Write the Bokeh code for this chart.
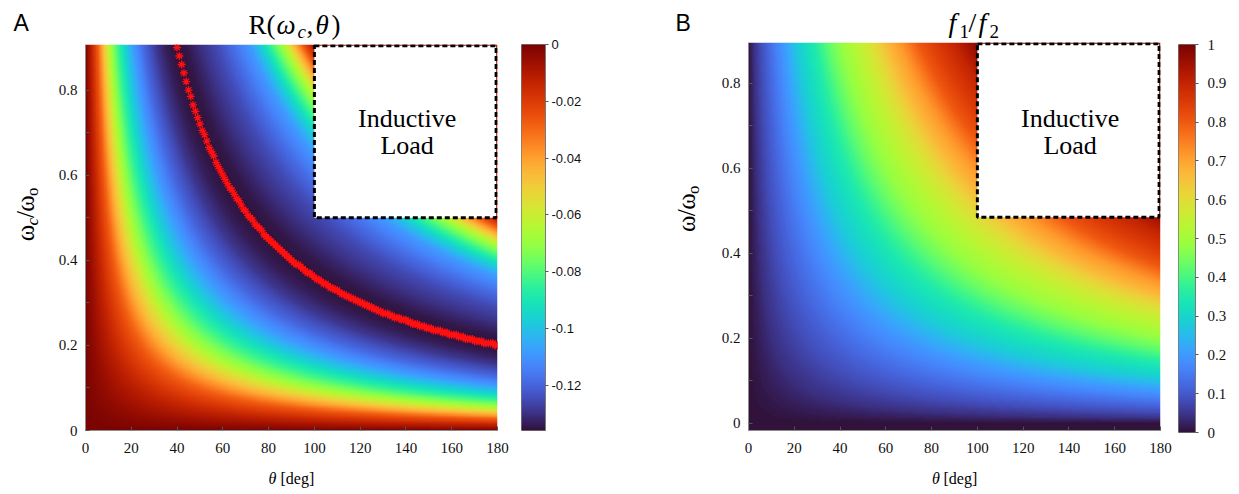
import numpy as np
from bokeh.plotting import figure
from bokeh.layouts import row, column
from bokeh.models import (LinearColorMapper, FixedTicker, CustomJSTickFormatter,
                          Label, BoxAnnotation, Range1d)
from bokeh.palettes import Turbo256
from bokeh.embed import file_html
from bokeh.resources import INLINE

# ---------------------------------------------------------------------------
# Data: both maps depend on the electrical length  omega/omega_o * theta  [deg]
# ---------------------------------------------------------------------------
r_electrical_length = [0, 2.5, 5, 7.5, 10, 12.5, 15.5, 19, 23, 28, 32, 36,
                       40, 45, 52, 58, 65, 70, 74, 78, 82, 86, 90]
r_values = [0.0, -0.0136, -0.0286, -0.0490, -0.0680, -0.0816, -0.0952,
            -0.1088, -0.1197, -0.1292, -0.1340, -0.1360, -0.1346, -0.1306,
            -0.1251, -0.1183, -0.1088, -0.0952, -0.0816, -0.0680, -0.0476,
            -0.0272, -0.0095]

f_electrical_length = [0, 2, 4.6, 8.5, 13.8, 19, 25.6, 30.8, 36, 43.9, 49.1,
                       54.4, 59.6, 66.2, 72.7, 80.6, 87.2, 90]
f_ratio = [0.0, 0.04, 0.08, 0.13, 0.20, 0.28, 0.35, 0.42, 0.48, 0.55, 0.60,
           0.67, 0.72, 0.80, 0.85, 0.90, 0.96, 0.98]

theta_ticks = [0, 20, 40, 60, 80, 100, 120, 140, 160, 180]
omega_ticks = [0, 0.2, 0.4, 0.6, 0.8]
omega_minor_ticks = [0.1, 0.3, 0.5, 0.7]
r_bar_ticks = [-0.12, -0.1, -0.08, -0.06, -0.04, -0.02, 0]
f_bar_ticks = [0, 0.1, 0.2, 0.3, 0.4, 0.5, 0.6, 0.7, 0.8, 0.9, 1.0]

R_LOW, R_HIGH = -0.136, 0.0
F_LOW, F_HIGH = 0.0, 1.0
inductive_theta = 100          # inductive-load region: theta above this ...
inductive_omega_a = 0.5        # ... and omega above this (panel A)
inductive_omega_b = 0.485      # same region in panel B axes

SERIF = "Liberation Serif"
SANS = "Liberation Sans"
AXIS_GRAY = "#8c8c8c"
XR = (0, 180)
A_YR = (0.0, 0.907)
B_YR = (-0.0165, 0.896)
RAISE = 0.3   # lift of the alphabetic baseline, in em

r_mapper = LinearColorMapper(palette=Turbo256, low=R_LOW, high=R_HIGH)
f_mapper = LinearColorMapper(palette=Turbo256, low=F_LOW, high=F_HIGH)

tick_fmt = CustomJSTickFormatter(code="""
    const v = Math.round(tick * 100) / 100;
    return v == 0 ? '0' : String(v);
""")


def text_panel(width, height, pieces):
    """A blank canvas in pixel units that only carries text.
    pieces: (text, x, y_baseline, size, style, font, angle, align)"""
    p = figure(width=width, height=height, x_range=Range1d(0, width),
               y_range=Range1d(height, 0), min_border=0, title=None,
               x_axis_location=None, y_axis_location=None,
               output_backend="svg", toolbar_location=None)
    p.outline_line_color = None
    p.grid.visible = False
    for text, x, y, size, style, font, angle, align in pieces:
        if angle:
            x = x - RAISE * size
        else:
            y = y - RAISE * size
        p.add_layout(Label(x=x, y=y, text=text, text_font=font,
                           text_font_size=f"{size}px", text_font_style=style,
                           text_color="black", text_align=align,
                           text_baseline="alphabetic", angle=angle))
    return p


def map_figure(frame_h, yr, border_left, border_right):
    p = figure(frame_width=412, frame_height=frame_h, x_range=XR, y_range=yr,
               min_border_left=border_left, min_border_right=border_right,
               min_border_top=0, min_border_bottom=32, title=None,
               output_backend="svg", toolbar_location=None)
    p.outline_line_color = None
    p.grid.visible = False
    for ax in (p.xaxis[0], p.yaxis[0]):
        ax.axis_line_color = AXIS_GRAY
        ax.major_tick_line_color = "#555555"
        ax.minor_tick_line_color = "#555555"
        ax.major_tick_in = 4
        ax.major_tick_out = 0
        ax.minor_tick_in = 4
        ax.minor_tick_out = 0
        ax.major_label_text_font = SERIF
        ax.major_label_text_font_size = "15px"
        ax.major_label_text_color = "#111111"
        ax.formatter = tick_fmt
    p.xaxis.ticker = FixedTicker(ticks=theta_ticks)
    p.xaxis.major_label_standoff = 12
    p.yaxis.ticker = FixedTicker(ticks=omega_ticks, minor_ticks=omega_minor_ticks)
    p.yaxis.major_label_standoff = 8
    return p


def colorbar_figure(mapper, low, high, ticks, top, frame_w, frame_h,
                    border_left, border_right, font, size, standoff):
    p = figure(frame_width=frame_w, frame_height=frame_h, x_range=(0, 1),
               y_range=(low, high), min_border_left=border_left,
               min_border_right=border_right, min_border_top=top,
               min_border_bottom=494 - top - frame_h, title=None,
               x_axis_location=None, y_axis_location="right",
               output_backend="svg", toolbar_location=None)
    p.image(image=[np.linspace(low, high, 256).reshape(-1, 1)], x=0, y=low,
            dw=1, dh=high - low, color_mapper=mapper)
    p.grid.visible = False
    p.outline_line_color = "#7a7a7a"
    ax = p.yaxis[0]
    ax.ticker = FixedTicker(ticks=ticks)
    ax.formatter = tick_fmt
    ax.axis_line_color = "#7a7a7a"
    ax.major_tick_in = 0
    ax.major_tick_out = 3
    ax.major_tick_line_color = "#555555"
    ax.minor_tick_line_color = None
    ax.major_label_standoff = standoff
    ax.major_label_text_font = font
    ax.major_label_text_font_size = f"{size}px"
    ax.major_label_text_color = "#111111"
    return p


def map_grid(yr, nx, ny, lengths, values):
    th = (np.arange(nx) + 0.5) * (XR[1] - XR[0]) / nx
    om = yr[0] + (np.arange(ny) + 0.5) * (yr[1] - yr[0]) / ny
    el = np.clip(om[:, None], 0, None) * th[None, :]
    return np.interp(el, lengths, values)


def inductive_box(p, bottom, yr, frame_top, frame_h):
    p.add_layout(BoxAnnotation(left=inductive_theta, right=XR[1] - 0.6,
                               bottom=bottom, top=yr[1] - 0.003,
                               fill_color="white", fill_alpha=1.0,
                               line_color="black", line_alpha=1.0,
                               line_width=3, line_dash="5 3"))
    per_px = (yr[1] - yr[0]) / frame_h
    for text, baseline in (("Inductive", 125.7), ("Load", 153.0)):
        y = yr[1] - (baseline - frame_top - RAISE * 26) * per_px
        p.add_layout(Label(x=(inductive_theta + XR[1]) / 2 + 0.5, y=y,
                           text=text, text_font=SERIF, text_font_size="26px",
                           text_color="black", text_align="center",
                           text_baseline="alphabetic"))


# ---------------------------------------------------------------------------
# Panel A: R(omega_c, theta)
# ---------------------------------------------------------------------------
pa = map_figure(386, A_YR, 40, 13)
r_img = map_grid(A_YR, 720, 700, r_electrical_length, r_values)
pa.image(image=[r_img], x=XR[0], y=A_YR[0], dw=XR[1] - XR[0],
         dh=A_YR[1] - A_YR[0], color_mapper=r_mapper)

# trough of R for each theta column
curve_theta = np.arange(40, 181, 1.0)
curve_grid = np.arange(0, 0.9001, 0.005)
r_curve = np.interp(curve_theta[:, None] * curve_grid[None, :],
                    r_electrical_length, r_values)
idx = r_curve.argmin(axis=1)
keep = r_curve.min(axis=1) <= R_LOW + 0.0005
pa.scatter(curve_theta[keep], curve_grid[idx[keep]], marker="asterisk",
           size=8, line_color="#ff1010", line_width=1.3)
inductive_box(pa, inductive_omega_a, A_YR, 44, 386)

title_a = text_panel(510, 44, [
    ("A", 13, 29.5, 23, "normal", SANS, 0, "left"),
    ("R(", 248, 32.5, 27, "normal", SERIF, 0, "left"),
    ("ω", 276, 32.5, 27, "italic", SERIF, 0, "left"),
    ("c", 297, 37, 19, "italic", SERIF, 0, "left"),
    (",", 306, 32.5, 27, "normal", SERIF, 0, "left"),
    ("θ", 315, 32.5, 27, "italic", SERIF, 0, "left"),
    (")", 331, 32.5, 27, "normal", SERIF, 0, "left"),
])
ylab_a = text_panel(45, 418, [
    ("ω", 32, 257 - 44, 25, "normal", SERIF, np.pi / 2, "left"),
    ("c", 37, 240 - 44, 17, "italic", SERIF, np.pi / 2, "left"),
    ("/", 32, 232 - 44, 25, "normal", SERIF, np.pi / 2, "left"),
    ("ω", 32, 225 - 44, 25, "normal", SERIF, np.pi / 2, "left"),
    ("o", 37, 208 - 44, 17, "normal", SERIF, np.pi / 2, "left"),
])
xlab_a = text_panel(510, 32, [
    ("θ", 268, 483 - 462, 16, "italic", SERIF, 0, "left"),
    ("[deg]", 280, 483 - 462, 16, "normal", SERIF, 0, "left"),
])
cb_a = colorbar_figure(r_mapper, R_LOW, R_HIGH, r_bar_ticks, 44, 24, 386,
                       11, 60, SANS, 13, 3)

# ---------------------------------------------------------------------------
# Panel B: f1/f2
# ---------------------------------------------------------------------------
pb = map_figure(388, B_YR, 43, 17)
f_img = map_grid(B_YR, 720, 700, f_electrical_length, f_ratio)
pb.image(image=[f_img], x=XR[0], y=B_YR[0], dw=XR[1] - XR[0],
         dh=B_YR[1] - B_YR[0], color_mapper=f_mapper)
inductive_box(pb, inductive_omega_b, B_YR, 42, 388)

title_b = text_panel(572, 42, [
    ("B", 675 - 605, 29.5, 23, "normal", SANS, 0, "left"),
    ("f", 948 - 605, 30.5, 28, "italic", SERIF, 0, "left"),
    ("1", 959 - 605, 36.5, 19, "normal", SERIF, 0, "left"),
    ("/", 968 - 605, 30.5, 28, "normal", SERIF, 0, "left"),
    ("f", 978 - 605, 30.5, 28, "italic", SERIF, 0, "left"),
    ("2", 989 - 605, 36.5, 19, "normal", SERIF, 0, "left"),
])
ylab_b = text_panel(100, 420, [
    ("ω", 693 - 605, 247 - 42, 25, "normal", SERIF, np.pi / 2, "left"),
    ("/", 693 - 605, 230 - 42, 25, "normal", SERIF, np.pi / 2, "left"),
    ("ω", 693 - 605, 223 - 42, 25, "normal", SERIF, np.pi / 2, "left"),
    ("o", 698 - 605, 206 - 42, 17, "normal", SERIF, np.pi / 2, "left"),
])
xlab_b = text_panel(572, 32, [
    ("θ", 931.5 - 605, 483 - 462, 16, "italic", SERIF, 0, "left"),
    ("[deg]", 943 - 605, 483 - 462, 16, "normal", SERIF, 0, "left"),
])
cb_b = colorbar_figure(f_mapper, F_LOW, F_HIGH, f_bar_ticks, 42, 17, 388,
                       1, 44, SERIF, 15, 9)

layout = row(
    column(title_a, row(ylab_a, pa), xlab_a),
    cb_a,
    column(title_b, row(ylab_b, pb), xlab_b),
    cb_b,
)
open("out.html", "w").write(file_html(layout, INLINE, title="R and f1/f2 maps"))
